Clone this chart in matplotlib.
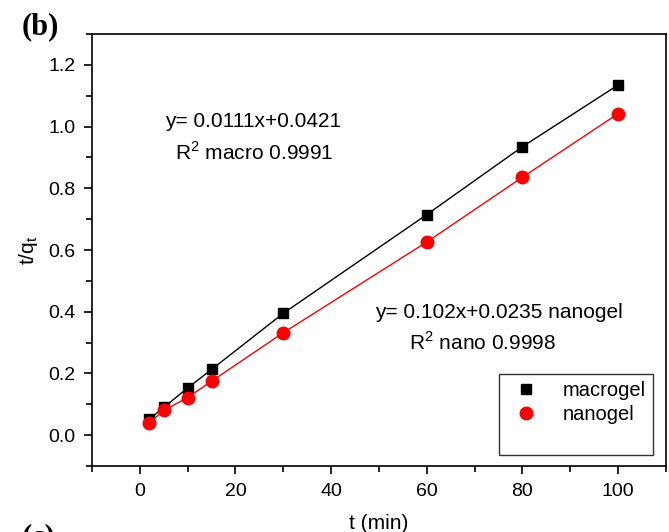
import numpy as np
import matplotlib.pyplot as plt
from matplotlib.lines import Line2D
from matplotlib.ticker import MultipleLocator

plt.rcParams['font.family'] = ['Liberation Sans', 'DejaVu Sans']

t = [2, 5, 10, 15, 30, 60, 80, 100]
macrogel = [0.052, 0.090, 0.153, 0.213, 0.395, 0.715, 0.935, 1.135]
nanogel = [0.040, 0.080, 0.122, 0.175, 0.332, 0.626, 0.836, 1.042]

fig = plt.figure(figsize=(6.69, 5.32), dpi=100)
ax = fig.add_axes([0.1375, 0.124, 0.858, 0.812])

ax.plot(t, macrogel, color='black', lw=1, marker='s', ms=7, mfc='black', mec='black')
ax.plot(t, nanogel, color='red', lw=1, marker='o', ms=9, mfc='red', mec='red')

ax.set_xlim(-10, 110)
ax.set_ylim(-0.1, 1.3)
ax.xaxis.set_major_locator(MultipleLocator(20))
ax.xaxis.set_minor_locator(MultipleLocator(10))
ax.yaxis.set_major_locator(MultipleLocator(0.2))
ax.yaxis.set_minor_locator(MultipleLocator(0.1))
ax.yaxis.set_major_formatter(plt.FormatStrFormatter('%.1f'))
ax.tick_params(which='major', direction='out', length=6, width=1.2, labelsize=14, pad=6)
ax.tick_params(which='minor', direction='out', length=4, width=1.2)
for s in ax.spines.values():
    s.set_linewidth(1.2)

ax.set_xlabel('t (min)', fontsize=15, labelpad=10)
ax.set_ylabel('t/q$_\\mathregular{t}$', fontsize=15, labelpad=6)

ax.text(23.7, 1.015, 'y= 0.0111x+0.0421', fontsize=15, ha='center', va='center')
ax.text(24, 0.917, 'R$^\\mathregular{2}$ macro 0.9991', fontsize=15, ha='center', va='center')
ax.text(75.1, 0.397, 'y= 0.102x+0.0235 nanogel', fontsize=15, ha='center', va='center')
ax.text(71.7, 0.30, 'R$^\\mathregular{2}$ nano 0.9998', fontsize=15, ha='center', va='center')

handles = [Line2D([], [], ls='none', marker='s', ms=7, color='black'),
           Line2D([], [], ls='none', marker='o', ms=9, color='red'),
           Line2D([], [], ls='none')]
leg = ax.legend(handles, ['macrogel', 'nanogel', ' '], loc='lower right',
                bbox_to_anchor=(0.977, 0.025), fontsize=14.5, frameon=True, fancybox=False,
                edgecolor='black', handlelength=2.0, handletextpad=0.8,
                borderpad=0.35, labelspacing=0.25, borderaxespad=0)
leg.get_frame().set_linewidth(1)

fig.text(0.033, 0.935, '(b)', fontsize=22, fontweight='bold', family='Liberation Serif')
fig.text(0.033, -0.025, '(c)', fontsize=22, fontweight='bold', family='Liberation Serif')

fig.savefig('out.png', dpi=100)
